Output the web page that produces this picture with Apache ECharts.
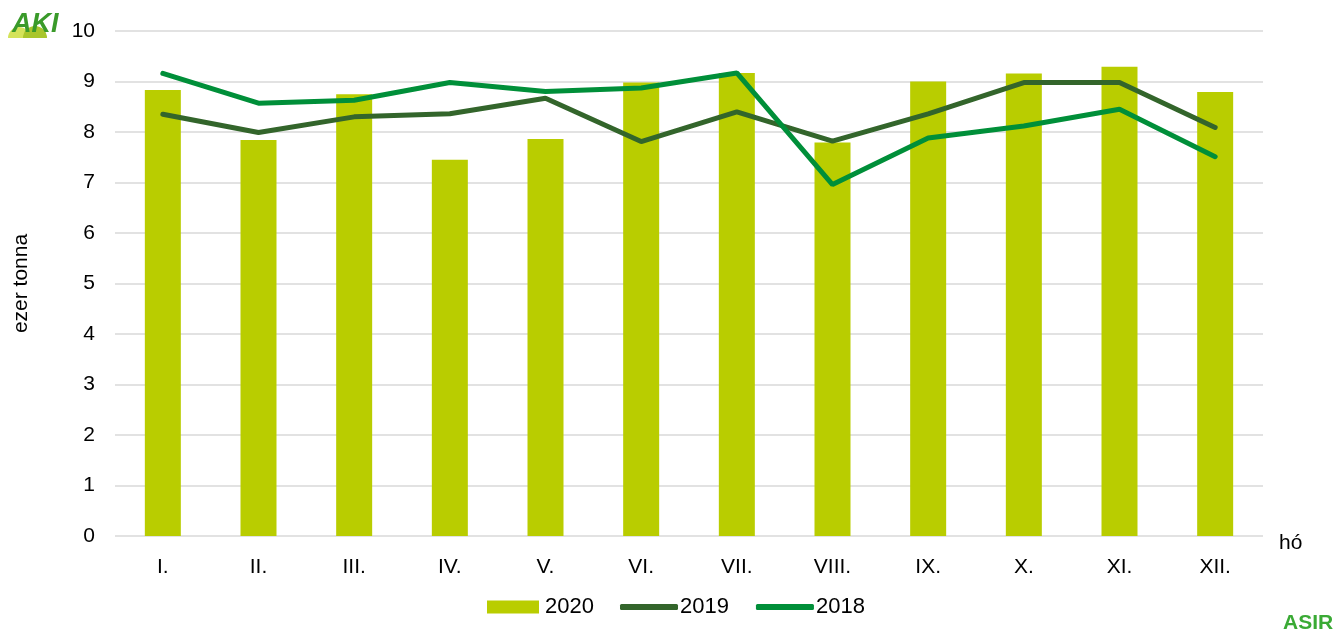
<!DOCTYPE html>
<html><head><meta charset="utf-8">
<script src="https://cdn.jsdelivr.net/npm/echarts@6/dist/echarts.min.js"></script>
<style>html,body{margin:0;padding:0;background:#fff}#c{width:1338px;height:637px}</style>
</head><body><div id="c"></div>
<script>
const categories = ['I.','II.','III.','IV.','V.','VI.','VII.','VIII.','IX.','X.','XI.','XII.'];
const s2020 = [8.83,7.84,8.75,7.45,7.86,8.98,9.17,7.79,9.00,9.16,9.29,8.79];
const s2019 = [8.35,7.99,8.30,8.36,8.67,7.81,8.40,7.82,8.36,8.98,8.98,8.09];
const s2018 = [9.16,8.57,8.63,8.98,8.80,8.87,9.17,6.96,7.88,8.12,8.45,7.51];
const yTicks = [0,1,2,3,4,5,6,7,8,9,10];

const chart = echarts.init(document.getElementById('c'));
const font = 'Liberation Sans, Arial, sans-serif';
chart.setOption({
  animation:false,
  textStyle:{fontFamily:font},
  grid:{left:115,right:75,top:31,bottom:101},
  legend:[
    {left:487,top:596,padding:0,itemWidth:52,itemHeight:13,itemGap:20,
     textStyle:{fontSize:22,color:'#000',fontFamily:font,padding:[0,0,0,1]},
     data:[{name:'2020',icon:'rect'}]},
    {left:620,top:596,padding:0,itemWidth:58,itemHeight:6,itemGap:27,
     textStyle:{fontSize:22,color:'#000',fontFamily:font,padding:[0,0,0,-3]},
     data:[{name:'2019',icon:'roundRect'},{name:'2018',icon:'roundRect'}]}
  ],
  xAxis:{
    type:'category',data:categories,
    name:'hó',nameLocation:'end',nameGap:16,
    nameTextStyle:{fontSize:21,color:'#000',fontFamily:font,verticalAlign:'top',lineHeight:14},
    axisLine:{show:false},axisTick:{show:false},
    axisLabel:{fontSize:21,color:'#000',margin:21,fontFamily:font}
  },
  yAxis:{
    type:'value',min:yTicks[0],max:yTicks[yTicks.length-1],interval:1,
    name:'ezer tonna',nameLocation:'middle',nameGap:83,nameRotate:90,
    nameTextStyle:{fontSize:21,color:'#000',fontFamily:font},
    axisLine:{show:false},axisTick:{show:false},
    axisLabel:{fontSize:21,color:'#000',margin:20,fontFamily:font},
    splitLine:{lineStyle:{color:'#d9d9d9',width:1.5}}
  },
  series:[
    {name:'2020',type:'bar',data:s2020,barWidth:36,itemStyle:{color:'#b9cd00'}},
    {name:'2019',type:'line',data:s2019,symbol:'none',lineStyle:{width:5,color:'#33652b',cap:'round'},itemStyle:{color:'#33652b'}},
    {name:'2018',type:'line',data:s2018,symbol:'none',lineStyle:{width:5,color:'#008f39',cap:'round'},itemStyle:{color:'#008f39'}}
  ],
  graphic:[
    {type:'circle',shape:{cx:19,cy:38,r:11},style:{fill:'#d4e35a'}},
    {type:'circle',shape:{cx:35,cy:38,r:12},style:{fill:'#a9c62c'}},
    {type:'rect',shape:{x:6,y:38,width:56,height:14},style:{fill:'#fff'}},
    {type:'text',left:12,top:11,style:{text:'AKI',font:'italic bold 27px '+font,fill:'#3a9a2a'}},
    {type:'text',left:1283,top:613,style:{text:'ASIR',font:'bold 21px '+font,fill:'#3aaa35'}}
  ]
});
</script></body></html>
